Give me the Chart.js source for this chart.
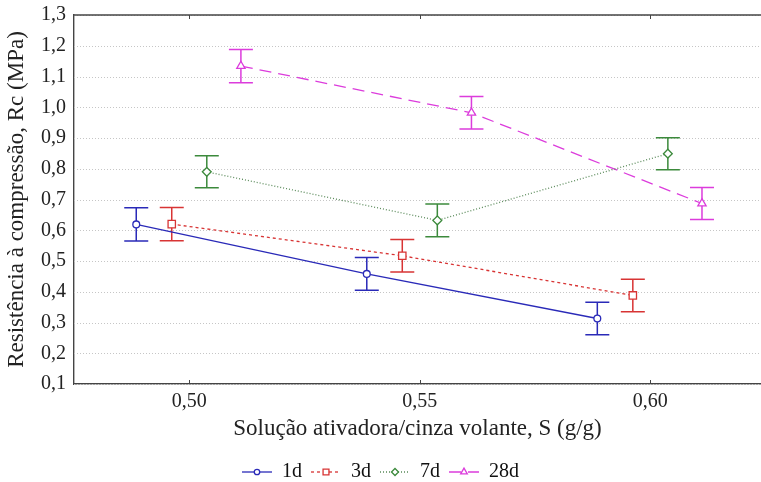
<!DOCTYPE html>
<html>
<head>
<meta charset="utf-8">
<script src="https://cdn.jsdelivr.net/npm/chart.js@4.4.1/dist/chart.umd.min.js"></script>
<style>
  html, body { margin: 0; padding: 0; background: #fff; }
  #wrap { width: 761px; height: 482px; }
</style>
</head>
<body>
<div id="wrap"><canvas id="rc-chart"></canvas></div>
<script>
// Resistência à compressão x relação solução/cinza, por idade de cura
var idades = ['1d', '3d', '7d', '28d'];

// posição em S (g/g) de cada ponto, deslocada por idade
var s1d = [0.4885, 0.5385, 0.5885];
var s3d = [0.4962, 0.5462, 0.5962];
var s7d = [0.5038, 0.5538, 0.6038];
var s28d = [0.5112, 0.5612, 0.6112];

// Rc médio (MPa)
var rc1d = [0.619, 0.458, 0.313];
var rc3d = [0.620, 0.517, 0.388];
var rc7d = [0.790, 0.632, 0.849];
var rc28d = [1.134, 0.982, 0.687];

// meia amplitude das barras de erro (MPa)
var erro1d = [0.054, 0.053, 0.053];
var erro3d = [0.054, 0.053, 0.053];
var erro7d = [0.052, 0.053, 0.052];
var erro28d = [0.054, 0.053, 0.052];

var xTicks = [0.50, 0.55, 0.60];
var yMin = 0.1, yMax = 1.3, yPasso = 0.1;

var estilos = [
  { cor: '#2a2ab8', corErro: '#2a2ab8', corLinha: '#2a2ab8', ponto: 'circle', raio: 3.4, traco: [] },
  { cor: '#d83434', corErro: '#d83434', corLinha: '#d83434', ponto: 'rect', raio: 5.2, traco: [3, 3] },
  { cor: '#3c8a3c', corErro: '#3c8a3c', corLinha: '#5a8a5a', ponto: 'rectRot', raio: 4.4, traco: [1, 2] },
  { cor: '#dc3cdc', corErro: '#dc3cdc', corLinha: '#dc3cdc', ponto: 'triangle', raio: 4.8, traco: [12, 7] }
];

var xs = [s1d, s3d, s7d, s28d];
var ys = [rc1d, rc3d, rc7d, rc28d];
var erros = [erro1d, erro3d, erro7d, erro28d];

var datasets = idades.map(function (nome, i) {
  var e = estilos[i];
  return {
    label: nome,
    data: xs[i].map(function (x, j) { return { x: x, y: ys[i][j] }; }),
    erro: erros[i],
    corErro: e.corErro,
    showLine: true,
    borderColor: e.corLinha,
    borderWidth: 1.3,
    borderDash: e.traco,
    pointStyle: e.ponto,
    pointRadius: e.raio,
    pointHoverRadius: e.raio,
    pointBackgroundColor: '#ffffff',
    pointBorderColor: e.cor,
    pointBorderWidth: 1.3
  };
});

// pequenos desenhos de linha + marcador para a legenda
function glifoLegenda(e) {
  var c = document.createElement('canvas');
  c.width = 30; c.height = 12;
  var g = c.getContext('2d');
  g.strokeStyle = e.corLinha;
  g.lineWidth = 1.3;
  g.setLineDash(e.traco);
  g.beginPath(); g.moveTo(0, 6); g.lineTo(30, 6); g.stroke();
  g.setLineDash([]);
  g.fillStyle = '#ffffff';
  g.strokeStyle = e.cor;
  Chart.helpers.drawPoint(g, { pointStyle: e.ponto, radius: e.raio * 0.8, borderWidth: 1.2, rotation: 0 }, 15, 6);
  return c;
}
var glifos = estilos.map(glifoLegenda);

// grade pontilhada, moldura superior, marcas internas do eixo x e barras de erro
var moldura = {
  id: 'moldura',
  beforeDatasetsDraw: function (chart) {
    var ctx = chart.ctx, a = chart.chartArea;
    var sx = chart.scales.x, sy = chart.scales.y;
    ctx.save();
    ctx.strokeStyle = '#c6c6c6';
    ctx.lineWidth = 1;
    ctx.setLineDash([1, 2]);
    sy.ticks.forEach(function (t) {
      var py = Math.round(sy.getPixelForValue(t.value)) + 0.5;
      ctx.beginPath(); ctx.moveTo(a.left, py); ctx.lineTo(a.right, py); ctx.stroke();
    });
    ctx.setLineDash([]);
    ctx.strokeStyle = '#444';
    ctx.lineWidth = 1.4;
    ctx.beginPath(); ctx.moveTo(a.left, a.top); ctx.lineTo(a.right, a.top); ctx.stroke();
    ctx.lineWidth = 1;
    sx.ticks.forEach(function (t) {
      var px = Math.round(sx.getPixelForValue(t.value)) + 0.5;
      ctx.beginPath();
      ctx.moveTo(px, a.top); ctx.lineTo(px, a.top + 4);
      ctx.moveTo(px, a.bottom); ctx.lineTo(px, a.bottom - 4);
      ctx.stroke();
    });
    ctx.restore();

    chart.data.datasets.forEach(function (ds) {
      ctx.save();
      ctx.strokeStyle = ds.corErro;
      ctx.lineWidth = 1.5;
      ds.data.forEach(function (p, i) {
        var px = sx.getPixelForValue(p.x);
        var topo = sy.getPixelForValue(p.y + ds.erro[i]);
        var base = sy.getPixelForValue(p.y - ds.erro[i]);
        ctx.beginPath();
        ctx.moveTo(px, topo); ctx.lineTo(px, base);
        ctx.moveTo(px - 12, topo); ctx.lineTo(px + 12, topo);
        ctx.moveTo(px - 12, base); ctx.lineTo(px + 12, base);
        ctx.stroke();
      });
      ctx.restore();
    });
  }
};

var virgula = function (casas) {
  return function (v) { return Number(v).toFixed(casas).replace('.', ','); };
};

var ctx = document.getElementById('rc-chart').getContext('2d');
new Chart(ctx, {
  type: 'scatter',
  data: { datasets: datasets },
  plugins: [moldura],
  options: {
    responsive: true,
    maintainAspectRatio: false,
    animation: false,
    devicePixelRatio: 1,
    layout: { autoPadding: false, padding: { top: 15, right: 0, bottom: 0, left: 0 } },
    plugins: {
      tooltip: { enabled: false },
      legend: {
        position: 'bottom',
        maxHeight: 29,
        labels: {
          usePointStyle: true,
          pointStyleWidth: 30,
          padding: 9,
          color: '#111',
          font: { family: 'Liberation Serif', size: 20 },
          generateLabels: function (chart) {
            return chart.data.datasets.map(function (ds, i) {
              return {
                text: ds.label,
                pointStyle: glifos[i],
                fillStyle: 'transparent',
                strokeStyle: 'transparent',
                lineWidth: 0,
                fontColor: '#111',
                hidden: false,
                datasetIndex: i
              };
            });
          }
        }
      }
    },
    scales: {
      x: {
        type: 'linear',
        min: 0.475,
        max: 0.624,
        afterBuildTicks: function (scale) {
          scale.ticks = xTicks.map(function (v) { return { value: v }; });
        },
        afterFit: function (scale) {
          scale.height = 69;
          scale.paddingLeft = 0;
          scale.paddingRight = 0;
        },
        grid: { display: false, drawTicks: false },
        border: { display: true, color: '#444', width: 1.4 },
        ticks: {
          callback: virgula(2),
          color: '#222',
          padding: 6,
          maxRotation: 0,
          font: { family: 'Liberation Serif', size: 20 }
        },
        title: {
          display: true,
          text: 'Solução ativadora/cinza volante, S (g/g)',
          color: '#222',
          padding: { top: 1, bottom: 10 },
          font: { family: 'Liberation Serif', size: 23 }
        }
      },
      y: {
        min: yMin,
        max: yMax,
        afterFit: function (scale) {
          scale.width = 74;
          scale.paddingTop = 0;
          scale.paddingBottom = 0;
        },
        grid: { display: false, drawTicks: false },
        border: { display: true, color: '#444', width: 1.4 },
        ticks: {
          stepSize: yPasso,
          callback: virgula(1),
          color: '#222',
          padding: 8,
          font: { family: 'Liberation Serif', size: 20 }
        },
        title: {
          display: true,
          text: 'Resistência à compressão, Rc (MPa)',
          color: '#222',
          padding: { top: 3, bottom: 2 },
          font: { family: 'Liberation Serif', size: 23 }
        }
      }
    }
  }
});
</script>
</body>
</html>
